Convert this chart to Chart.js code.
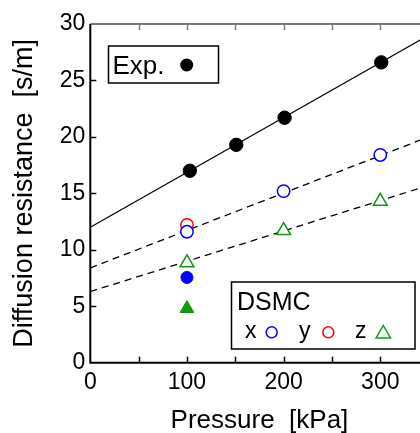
<!DOCTYPE html>
<html>
<head>
<meta charset="utf-8">
<script src="https://cdn.jsdelivr.net/npm/chart.js@4/dist/chart.umd.min.js"></script>
<style>
  html, body { margin: 0; padding: 0; background: #fff; overflow: hidden; }
  #wrap { width: 440px; height: 433px; }
</style>
</head>
<body>
<div id="wrap"><canvas id="chart" width="440" height="433"></canvas></div>
<script>
// experiment
const expP = [103, 151, 201, 301];
const expR = [17.0, 19.3, 21.7, 26.6];
// DSMC open markers
const xP = [100, 200, 300];
const xR = [11.6, 15.2, 18.4];
const yP = [100];
const yR = [12.2];
const zP = [100, 200, 300];
const zR = [8.85, 11.7, 14.3];
// DSMC filled markers at 100 kPa
const xFilledP = [100];
const xFilledR = [7.55];
const zFilledP = [100];
const zFilledR = [4.8];
// fit lines, read at 0 and 350 kPa
const fitP = [0, 350];
const expFit = [12.0, 29.0];
const xFit = [8.4, 20.0];
const zFit = [6.3, 15.7];
// tick labels on the x axis (minor ticks at 50s carry no label)
const xLabels = ['0', '100', '200', '300'];

const FONT = '"Liberation Sans", Arial, sans-serif';
const BLUE = '#0000ff', RED = '#ff0000', GREEN = '#129a12';

const pts = (xs, ys) => xs.map((v, i) => ({ x: v, y: ys[i] }));

function marker(label, xs, ys, style, color, fill, r, bw) {
    return {
        label, data: pts(xs, ys), showLine: false,
        pointStyle: style, pointRadius: r, pointHoverRadius: r,
        pointBorderColor: color, pointBackgroundColor: fill, pointBorderWidth: bw
    };
}
function fit(label, ys, dash) {
    return {
        label, data: pts(fitP, ys), showLine: true, pointRadius: 0,
        borderColor: '#000', borderWidth: 1.3, borderDash: dash, fill: false
    };
}

// axis frame with inward ticks
const frame = {
    id: 'frame',
    beforeDatasetsDraw(chart) {
        const { ctx, chartArea: a, scales: { x, y } } = chart;
        ctx.save();
        ctx.lineWidth = 1.5;
        x.ticks.forEach(t => {
            if (t.value <= x.min || t.value >= x.max) return;
            const px = Math.round(x.getPixelForValue(t.value)) + 0.5;
            ctx.strokeStyle = '#000';
            ctx.beginPath(); ctx.moveTo(px, a.bottom); ctx.lineTo(px, a.bottom - 6); ctx.stroke();
            ctx.strokeStyle = '#7a7a7a';
            ctx.beginPath(); ctx.moveTo(px, a.top); ctx.lineTo(px, a.top + 6); ctx.stroke();
        });
        y.ticks.forEach(t => {
            if (t.value <= y.min || t.value >= y.max) return;
            const py = Math.round(y.getPixelForValue(t.value)) + 0.5;
            ctx.strokeStyle = '#000';
            ctx.beginPath(); ctx.moveTo(a.left, py); ctx.lineTo(a.left + 6, py); ctx.stroke();
        });
        ctx.lineWidth = 2;
        ctx.strokeStyle = '#7a7a7a';
        ctx.beginPath(); ctx.moveTo(a.left, a.top); ctx.lineTo(a.right, a.top); ctx.lineTo(a.right, a.bottom); ctx.stroke();
        ctx.strokeStyle = '#000';
        ctx.beginPath(); ctx.moveTo(a.left, a.top); ctx.lineTo(a.left, a.bottom); ctx.lineTo(a.right, a.bottom); ctx.stroke();
        ctx.restore();
    }
};

// the two legend boxes
const legends = {
    id: 'legends',
    afterDraw(chart) {
        const ctx = chart.ctx;
        ctx.save();
        ctx.fillStyle = '#fff';
        ctx.strokeStyle = '#000';
        ctx.lineWidth = 1.5;
        ctx.fillRect(108.5, 46, 110, 37); ctx.strokeRect(108.5, 46, 110, 37);
        ctx.fillRect(231.5, 282, 183.5, 67); ctx.strokeRect(231.5, 282, 183.5, 67);
        ctx.fillStyle = '#000';
        ctx.textBaseline = 'alphabetic';
        ctx.font = '26px ' + FONT;
        ctx.fillText('Exp.', 112.5, 73.5);
        ctx.beginPath(); ctx.arc(186.7, 65, 6.5, 0, Math.PI * 2); ctx.fill();
        ctx.font = '25px ' + FONT;
        ctx.fillText('DSMC', 237, 310);
        ctx.font = '23px ' + FONT;
        ctx.fillText('x', 245, 338);
        ctx.fillText('y', 299, 338);
        ctx.fillText('z', 355, 338);
        ctx.lineWidth = 1.5;
        ctx.strokeStyle = BLUE;
        ctx.beginPath(); ctx.arc(271.7, 332.3, 5.5, 0, Math.PI * 2); ctx.stroke();
        ctx.strokeStyle = RED;
        ctx.beginPath(); ctx.arc(328.3, 332.3, 5.5, 0, Math.PI * 2); ctx.stroke();
        ctx.strokeStyle = GREEN;
        ctx.beginPath(); ctx.moveTo(383.3, 325.5); ctx.lineTo(390.5, 338); ctx.lineTo(376.1, 338); ctx.closePath(); ctx.stroke();
        ctx.restore();
    }
};

new Chart(document.getElementById('chart'), {
    type: 'scatter',
    data: {
        datasets: [
            marker('Exp.', expP, expR, 'circle', '#000', '#000', 6.7, 1),
            marker('x', xP, xR, 'circle', BLUE, '#fff', 6.2, 1.5),
            marker('y', yP, yR, 'circle', RED, '#fff', 6.2, 1.5),
            marker('z', zP, zR, 'triangle', GREEN, '#fff', 8, 1.5),
            marker('x filled', xFilledP, xFilledR, 'circle', BLUE, BLUE, 6, 1),
            marker('z filled', zFilledP, zFilledR, 'triangle', GREEN, GREEN, 8, 1),
            fit('Exp. fit', expFit, []),
            fit('x fit', xFit, [7, 5]),
            fit('z fit', zFit, [7, 5])
        ]
    },
    options: {
        responsive: false,
        animation: false,
        devicePixelRatio: 1,
        layout: { padding: { left: 0, right: 11.4, top: 24, bottom: 0 } },
        plugins: { legend: { display: false }, tooltip: { enabled: false } },
        scales: {
            x: {
                type: 'linear', min: 0, max: 350,
                grid: { display: false, drawTicks: false }, border: { display: false },
                afterFit: s => { s.height = 70.3; },
                ticks: {
                    stepSize: 50, autoSkip: false, maxRotation: 0, padding: 6,
                    color: '#000', font: { family: FONT, size: 23 },
                    callback: v => (v % 100 === 0 && v <= 300) ? xLabels[v / 100] : ''
                },
                title: {
                    display: true, text: 'Pressure  [kPa]', color: '#000',
                    font: { family: FONT, size: 26, lineHeight: 1 }, padding: { top: 0, bottom: -1 }
                }
            },
            y: {
                type: 'linear', min: 0, max: 30,
                grid: { display: false, drawTicks: false }, border: { display: false },
                afterFit: s => { s.width = 90.3; },
                ticks: {
                    stepSize: 5, padding: 5, color: '#000',
                    font: { family: FONT, size: 23 }
                },
                title: {
                    display: true, text: 'Diffusion resistance  [s/m]', color: '#000',
                    font: { family: FONT, size: 27, lineHeight: 1 }, padding: { top: 11.5, bottom: 0 }
                }
            }
        }
    },
    plugins: [frame, legends]
});
</script>
</body>
</html>
